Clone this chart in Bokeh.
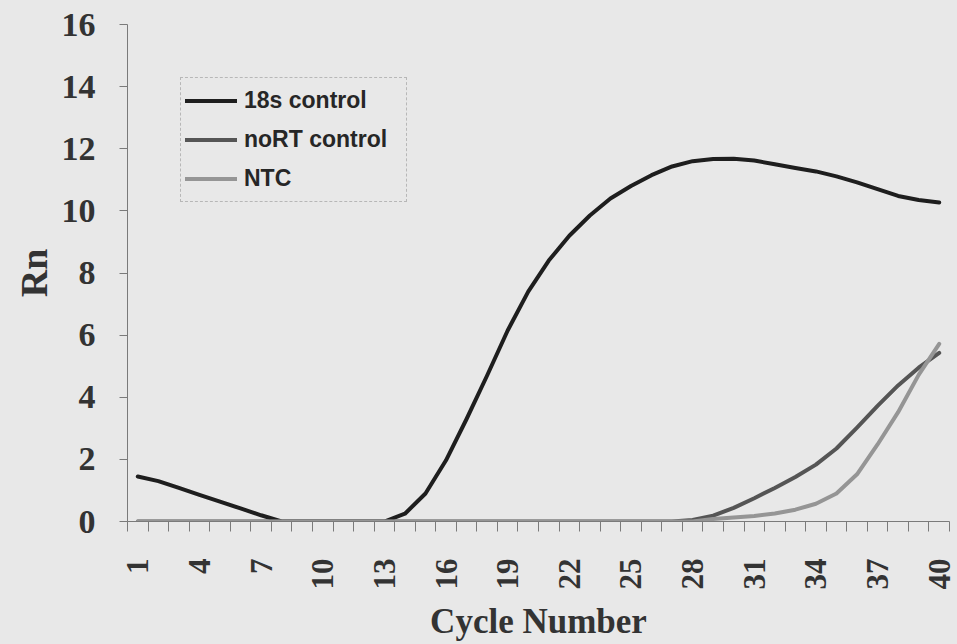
import math
from bokeh.plotting import figure
from bokeh.models import FixedTicker, Legend, LegendItem, Range1d
from bokeh.embed import file_html
from bokeh.resources import INLINE

# ---- data ----
cycles = list(range(1, 41))

s18_control = [1.45, 1.30, 1.08, 0.86, 0.64, 0.42, 0.20, 0.00,
               0.00, 0.00, 0.00, 0.00, 0.00,
               0.25, 0.90, 1.97, 3.30, 4.70, 6.15, 7.40, 8.40, 9.20, 9.85,
               10.40, 10.80, 11.15, 11.43, 11.60, 11.67, 11.68, 11.62, 11.50,
               11.38, 11.27, 11.11, 10.92, 10.70, 10.48, 10.35, 10.27]

nort_control = [0.0] * 27 + [0.05, 0.19, 0.44, 0.75, 1.08, 1.43, 1.83,
                             2.35, 3.02, 3.72, 4.38, 4.95, 5.43]

ntc = [0.0] * 28 + [0.08, 0.13, 0.18, 0.26, 0.38, 0.57, 0.90, 1.52,
                    2.48, 3.52, 4.72, 5.72]

series_names = ["18s control", "noRT control", "NTC"]
series_colors = ["#1e1e1e", "#555555", "#959595"]

x_tick_labels = list(range(1, 41, 3))
y_ticks = list(range(0, 17, 2))

BG = "#e8e8e8"
AXIS = "#7a7a7a"
TXT = "#333333"

p = figure(width=957, height=644,
           x_range=Range1d(0.5, 40.5), y_range=Range1d(0, 16),
           output_backend="svg", toolbar_location=None,
           min_border_left=127, min_border_right=8,
           min_border_top=24, min_border_bottom=123)
p.background_fill_color = BG
p.border_fill_color = BG
p.outline_line_color = None
p.grid.visible = False

renderers = []
for vals, col in zip([s18_control, nort_control, ntc], series_colors):
    r = p.line(cycles, vals, line_color=col, line_width=4, line_join="round", line_cap="round")
    renderers.append(r)

# x axis
boundaries = [c - 0.5 for c in cycles] + [cycles[-1] + 0.5]
xa = p.xaxis[0]
xa.ticker = FixedTicker(ticks=x_tick_labels, minor_ticks=boundaries)
xa.major_tick_line_color = None
xa.major_tick_out = 0
xa.minor_tick_out = 10
xa.minor_tick_in = 0
xa.minor_tick_line_color = AXIS
xa.axis_line_color = AXIS
xa.major_label_orientation = math.pi / 2
xa.major_label_standoff = 27
xa.major_label_text_font = "Liberation Serif"
xa.major_label_text_font_style = "bold"
xa.major_label_text_font_size = "31px"
xa.major_label_text_color = TXT
xa.axis_label = "Cycle Number"
xa.axis_label_text_font = "Liberation Serif"
xa.axis_label_text_font_style = "bold"
xa.axis_label_text_font_size = "35px"
xa.axis_label_text_color = TXT
xa.axis_label_standoff = 9

# y axis
ya = p.yaxis[0]
ya.ticker = FixedTicker(ticks=y_ticks)
ya.major_tick_out = 8
ya.major_tick_in = 0
ya.major_tick_line_color = AXIS
ya.minor_tick_line_color = None
ya.axis_line_color = AXIS
ya.major_label_standoff = 24
ya.major_label_text_font = "Liberation Serif"
ya.major_label_text_font_style = "bold"
ya.major_label_text_font_size = "34px"
ya.major_label_text_color = TXT
ya.axis_label = "Rn"
ya.axis_label_text_font = "Liberation Serif"
ya.axis_label_text_font_style = "bold"
ya.axis_label_text_font_size = "38px"
ya.axis_label_text_color = TXT
ya.axis_label_standoff = 4

legend = Legend(items=[LegendItem(label=n, renderers=[r]) for n, r in zip(series_names, renderers)],
                location=(53, 319))
legend.label_text_font = "Liberation Sans"
legend.label_text_font_style = "bold"
legend.label_text_font_size = "23px"
legend.label_text_color = "#262626"
legend.glyph_width = 52
legend.glyph_height = 37
legend.label_height = 37
legend.label_standoff = 7
legend.label_width = 158
legend.spacing = 2
legend.padding = 4
legend.margin = 0
legend.border_line_color = "#888888"
legend.border_line_dash = "2 2"
legend.border_line_width = 1
legend.background_fill_alpha = 0
p.add_layout(legend)

html = file_html(p, INLINE)
html = html.replace("<head>", "<head><style>body{background:%s}</style>" % BG, 1)
open("out.html", "w").write(html)
